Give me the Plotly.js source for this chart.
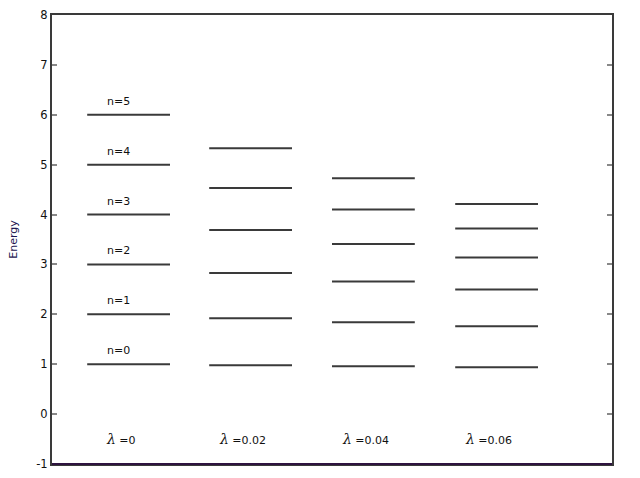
<!DOCTYPE html>
<html>
<head>
<meta charset="utf-8">
<script src="https://cdn.plot.ly/plotly-3.0.1.min.js"></script>
<style>html,body{margin:0;padding:0;background:#fff;}#chart{width:640px;height:478px;}</style>
</head>
<body>
<div id="chart"></div>
<script>
// Data
const lambdas = ["0", "0.02", "0.04", "0.06"];
const levelNames = ["n=0", "n=1", "n=2", "n=3", "n=4", "n=5"];
const energy_l0    = [1.00, 2.00, 3.00, 4.00, 5.00, 6.00];
const energy_l002  = [0.98, 1.92, 2.83, 3.69, 4.53, 5.33];
const energy_l004  = [0.96, 1.84, 2.66, 3.41, 4.10, 4.73];
const energy_l006  = [0.94, 1.76, 2.50, 3.14, 3.72, 4.21];
const series = [energy_l0, energy_l002, energy_l004, energy_l006];
const yTickVals  = [-1, 0, 1, 2, 3, 4, 5, 6, 7, 8];
const yTickText  = ["-1", "0", "1", "2", "3", "4", "5", "6", "7", "8"];

// Layout constants (x positions in axis units)
const groupStart = [0.88, 3.93, 7.0, 10.08];
const levelWidth = 2.07;

const traces = series.map((vals, g) => {
  const xs = [], ys = [];
  vals.forEach(v => {
    xs.push(groupStart[g], groupStart[g] + levelWidth, null);
    ys.push(v, v, null);
  });
  return {
    type: 'scatter', mode: 'lines', x: xs, y: ys,
    line: {color: '#3a3a3a', width: 2},
    hoverinfo: 'skip', showlegend: false
  };
});

const annotations = [];
levelNames.forEach((name, i) => {
  annotations.push({
    xref: 'x', yref: 'y', x: groupStart[0] + 0.78, y: energy_l0[i] + 0.27,
    text: name, showarrow: false, xanchor: 'center', yanchor: 'middle',
    font: {family: 'DejaVu Sans', size: 11, color: '#111'}
  });
});
lambdas.forEach((l, g) => {
  annotations.push({
    xref: 'x', yref: 'y', x: groupStart[g] + levelWidth / 2 - 0.2, y: -0.5,
    text: '<span style="font-family:DejaVu Serif;font-style:italic;font-size:14px">λ</span> =' + l,
    showarrow: false, xanchor: 'center', yanchor: 'middle',
    font: {family: 'DejaVu Sans', size: 11, color: '#111'}
  });
});

const layout = {
  width: 640, height: 478,
  margin: {l: 52, r: 28, t: 15, b: 14},
  paper_bgcolor: '#fff', plot_bgcolor: '#fff',
  showlegend: false,
  font: {family: 'DejaVu Sans', size: 11, color: '#111'},
  xaxis: {
    range: [0, 14], showgrid: false, zeroline: false,
    showticklabels: false, ticks: '',
    showline: true, linecolor: '#3a3a3a', linewidth: 2, mirror: true
  },
  yaxis: {
    range: [-1, 8], tickmode: 'array', tickvals: yTickVals, ticktext: yTickText,
    showgrid: false, zeroline: false,
    ticks: 'inside', ticklen: 5, tickwidth: 2, tickcolor: '#888',
    showline: true, linecolor: '#3a3a3a', linewidth: 2, mirror: 'ticks',
    tickfont: {family: 'DejaVu Sans', size: 11.5, color: '#111'},
    title: {text: 'Energy', font: {family: 'DejaVu Sans', size: 11, color: '#1a1450'}, standoff: 16}
  },
  shapes: [{
    type: 'line', xref: 'paper', yref: 'paper', x0: 0, x1: 1, y0: 0, y1: 0,
    line: {color: '#2e1440', width: 2}
  }],
  annotations: annotations
};

Plotly.newPlot('chart', traces, layout, {displayModeBar: false, staticPlot: true});
</script>
</body>
</html>
